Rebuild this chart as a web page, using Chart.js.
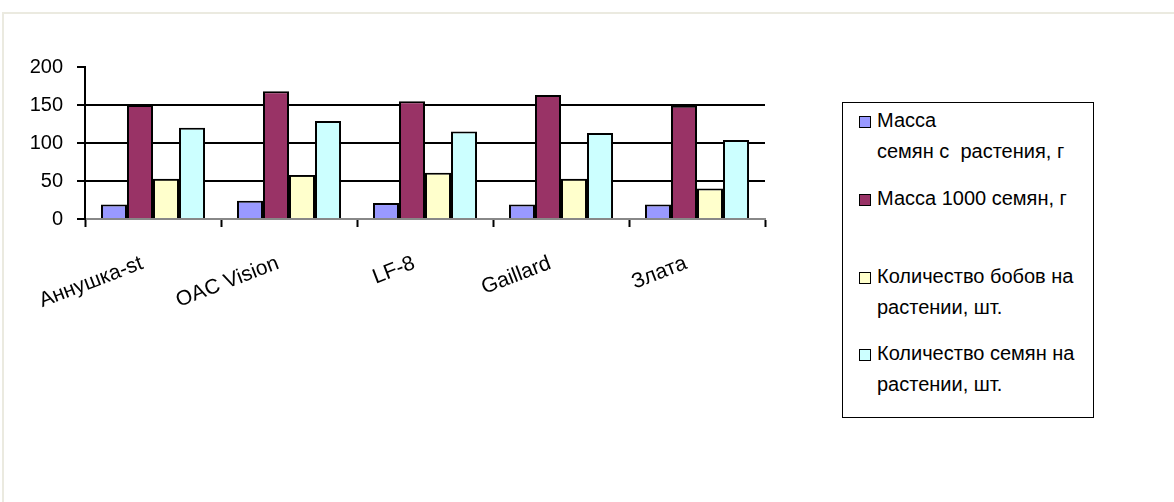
<!DOCTYPE html>
<html>
<head>
<meta charset="utf-8">
<script src="https://cdn.jsdelivr.net/npm/chart.js@4/dist/chart.umd.min.js"></script>
<style>
    body { margin: 0; background: #fff; font-family: "Liberation Sans", Arial, sans-serif; }
    #frame { position: absolute; left: 2px; top: 12px; width: 1300px; height: 700px; border: 2px solid #ebeae0; }
    #wrap { position: absolute; left: 0; top: 0; width: 800px; height: 340px; }
    #legend { position: absolute; left: 842px; top: 102px; width: 252px; height: 316px; border: 1.5px solid #000; box-sizing: border-box; }
    .item { position: absolute; left: 16px; font-size: 20px; line-height: 31px; color: #000; white-space: pre; }
    .box { position: absolute; left: 0; top: 11px; width: 10px; height: 10px; border: 1.5px solid #000; }
    .item span.txt { display: block; padding-left: 18px; }
</style>
</head>
<body>
<div id="frame"></div>
<div id="wrap"><canvas id="chart"></canvas></div>
<div id="legend"></div>
<script>
// data
const varieties = ["Аннушка-st", "OAC Vision", "LF-8", "Gaillard", "Злата"];
const seriesNames = [
    "Масса\nсемян с  растения, г",
    "Масса 1000 семян, г",
    "Количество бобов на\nрастении, шт.",
    "Количество семян на\nрастении, шт."
];
const seedMassPerPlant = [19, 24, 21, 19, 19];
const mass1000 = [150, 168, 155, 163, 149];
const podsPerPlant = [53, 58, 61, 53, 40];
const seedsPerPlant = [120, 129, 115, 113, 104];
const yTicks = [0, 50, 100, 150, 200];

const colors = ["#9999ff", "#993366", "#ffffcc", "#ccffff"];
const allSeries = [seedMassPerPlant, mass1000, podsPerPlant, seedsPerPlant];
const legendTops = [2, 80, 158, 235];

// legend built by hand, the original has uneven spacing
const legend = document.getElementById("legend");
seriesNames.forEach(function(name, i) {
    const div = document.createElement("div");
    div.className = "item";
    div.style.top = legendTops[i] + "px";
    div.innerHTML = '<div class="box" style="background:' + colors[i] + '"></div><span class="txt"></span>';
    div.querySelector(".txt").textContent = name;
    legend.appendChild(div);
});

const ctx = document.getElementById("chart").getContext("2d");
new Chart(ctx, {
    type: 'bar',
    data: {
        labels: varieties,
        datasets: allSeries.map(function(values, i) {
            return {
                label: seriesNames[i],
                data: values,
                backgroundColor: colors[i],
                borderColor: '#000',
                borderWidth: 2,
                categoryPercentage: 0.765,
                barPercentage: 1
            };
        })
    },
    options: {
        responsive: true,
        maintainAspectRatio: false,
        animation: false,
        layout: { padding: { left: 20, right: 35, top: 67, bottom: 0 } },
        plugins: { legend: { display: false }, tooltip: { enabled: false } },
        scales: {
            x: {
                grid: { offset: true, drawOnChartArea: false, tickLength: 8, tickColor: '#000', tickWidth: 2 },
                border: { color: '#888', width: 2 },
                ticks: {
                    color: '#000',
                    font: { family: 'Liberation Sans', size: 21 },
                    minRotation: 21, maxRotation: 21,
                    padding: 24,
                    labelOffset: -11
                },
                afterFit: function(scale) { scale.height = 121; }
            },
            y: {
                min: 0, max: 200,
                afterBuildTicks: function(scale) {
                    scale.ticks = yTicks.map(function(v) { return { value: v }; });
                },
                grid: {
                    color: function(c) { return (c.tick && c.tick.value > 0 && c.tick.value < 200) ? '#000' : 'rgba(0,0,0,0)'; },
                    lineWidth: 2,
                    tickLength: 8, tickColor: '#000', tickWidth: 2
                },
                border: { color: '#000', width: 2 },
                ticks: {
                    color: '#000',
                    font: { family: 'Liberation Sans', size: 20 },
                    padding: 14
                },
                afterFit: function(scale) { scale.width = 65; }
            }
        }
    }
});
</script>
</body>
</html>
